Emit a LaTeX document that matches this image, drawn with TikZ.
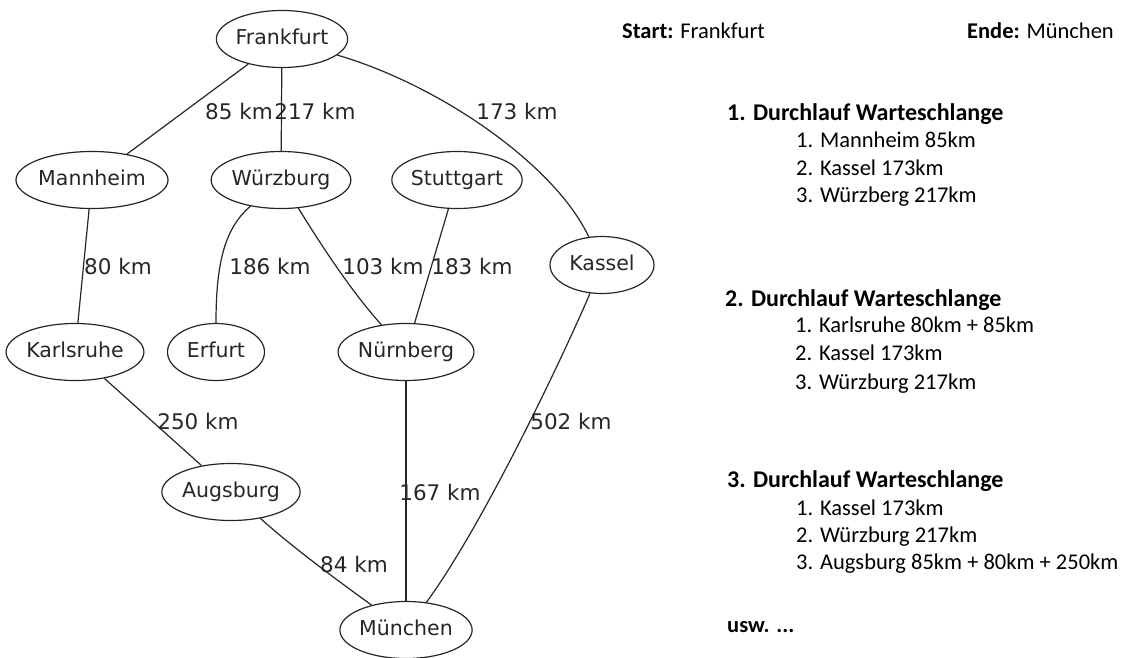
\documentclass[tikz,border=0pt]{standalone}
\usepackage{fontspec}
\setmainfont{Carlito}
\newfontfamily\graphfont{DejaVu Sans}
\usetikzlibrary{shapes.geometric}

\definecolor{ink}{HTML}{262626}

\tikzset{
  city/.style={ellipse, draw=ink, line width=1.2pt, inner sep=0pt,
    minimum height=57pt, text=ink,
    font=\graphfont\fontsize{20.5}{24}\selectfont,
    text height=14.5pt, text depth=4pt},
  road/.style={draw=ink, line width=1.2pt},
  dist/.style={inner sep=0pt, text=ink,
    font=\graphfont\fontsize{21.5}{25}\selectfont,
    text height=15pt, text depth=0pt},
  note/.style={anchor=base west, inner sep=0pt, text=black,
    font=\fontsize{22.5}{27}\selectfont},
  head/.style={note, font=\bfseries\fontsize{24}{28}\selectfont},
}

\begin{document}
\begin{tikzpicture}[x=1pt,y=-1pt]
\useasboundingbox (0,0) rectangle (1122,657);

% cities
\node[city, minimum width=126pt] (fra) at (282,39)  {Frankfurt};
\node[city, minimum width=140pt] (man) at (92,180)  {Mannheim};
\node[city, minimum width=134pt] (wue) at (281,180) {Würzburg};
\node[city, minimum width=119pt] (stu) at (457,180) {Stuttgart};
\node[city, minimum width=104pt] (kas) at (602,265) {Kassel};
\node[city, minimum width=132pt] (kar) at (75,352)  {Karlsruhe};
\node[city, minimum width=97pt]  (erf) at (216,352) {Erfurt};
\node[city, minimum width=128pt] (nue) at (406,352) {Nürnberg};
\node[city, minimum width=132pt] (aug) at (231,492) {Augsburg};
\node[city, minimum width=129pt] (mue) at (406,630) {München};

% roads
\draw[road] (fra) -- (man);
\draw[road] (fra) -- (wue);
\draw[road] (fra) .. controls (440,85) and (555,165) .. (kas);
\draw[road] (man) -- (kar);
\draw[road] (wue) .. controls (225,228) and (216,262) .. (erf);
\draw[road] (wue) .. controls (318,240) and (350,290) .. (nue);
\draw[road] (stu) -- (nue);
\draw[road] (kas) .. controls (566,350) and (484,524) .. (mue);
\draw[road] (kar) -- (aug);
\draw[road] (nue) -- (mue);
\draw[road] (aug) .. controls (290,545) and (330,575) .. (mue);

% distances
\node[dist] (d85)  at (239,112) {85 km};
\node[dist] (d217) at (315,112) {217 km};
\node[dist] (d173) at (517,112) {173 km};
\node[dist] (d80)  at (118,267) {80 km};
\node[dist] (d186) at (270,267) {186 km};
\node[dist] (d103) at (383,267) {103 km};
\node[dist] (d183) at (472,267) {183 km};
\node[dist] (d250) at (198,422) {250 km};
\node[dist] (d502) at (571,422) {502 km};
\node[dist] (d167) at (440,493) {167 km};
\node[dist] (d84)  at (354,565) {84 km};

% search notes
\node[note] (start) at (622,38) {\textbf{Start:} Frankfurt};
\node[note, anchor=base east] (ende) at (1114,38) {\textbf{Ende:} München};

\node[head] (h1) at (727,120) {1. Durchlauf Warteschlange};
\node[note] (a1) at (796,147) {1. Mannheim 85km};
\node[note] (a2) at (796,175) {2. Kassel 173km};
\node[note] (a3) at (796,202) {3. Würzberg 217km};

\node[head] (h2) at (725,306) {2. Durchlauf Warteschlange};
\node[note] (b1) at (795,332) {1. Karlsruhe 80km + 85km};
\node[note] (b2) at (795,360) {2. Kassel 173km};
\node[note] (b3) at (795,389) {3. Würzburg 217km};

\node[head] (h3) at (727,487) {3. Durchlauf Warteschlange};
\node[note] (c1) at (796,515) {1. Kassel 173km};
\node[note] (c2) at (796,542) {2. Würzburg 217km};
\node[note] (c3) at (796,569) {3. Augsburg 85km + 80km + 250km};

\node[note] (usw) at (727,632) {\textbf{usw. ...}};
\end{tikzpicture}
\end{document}
